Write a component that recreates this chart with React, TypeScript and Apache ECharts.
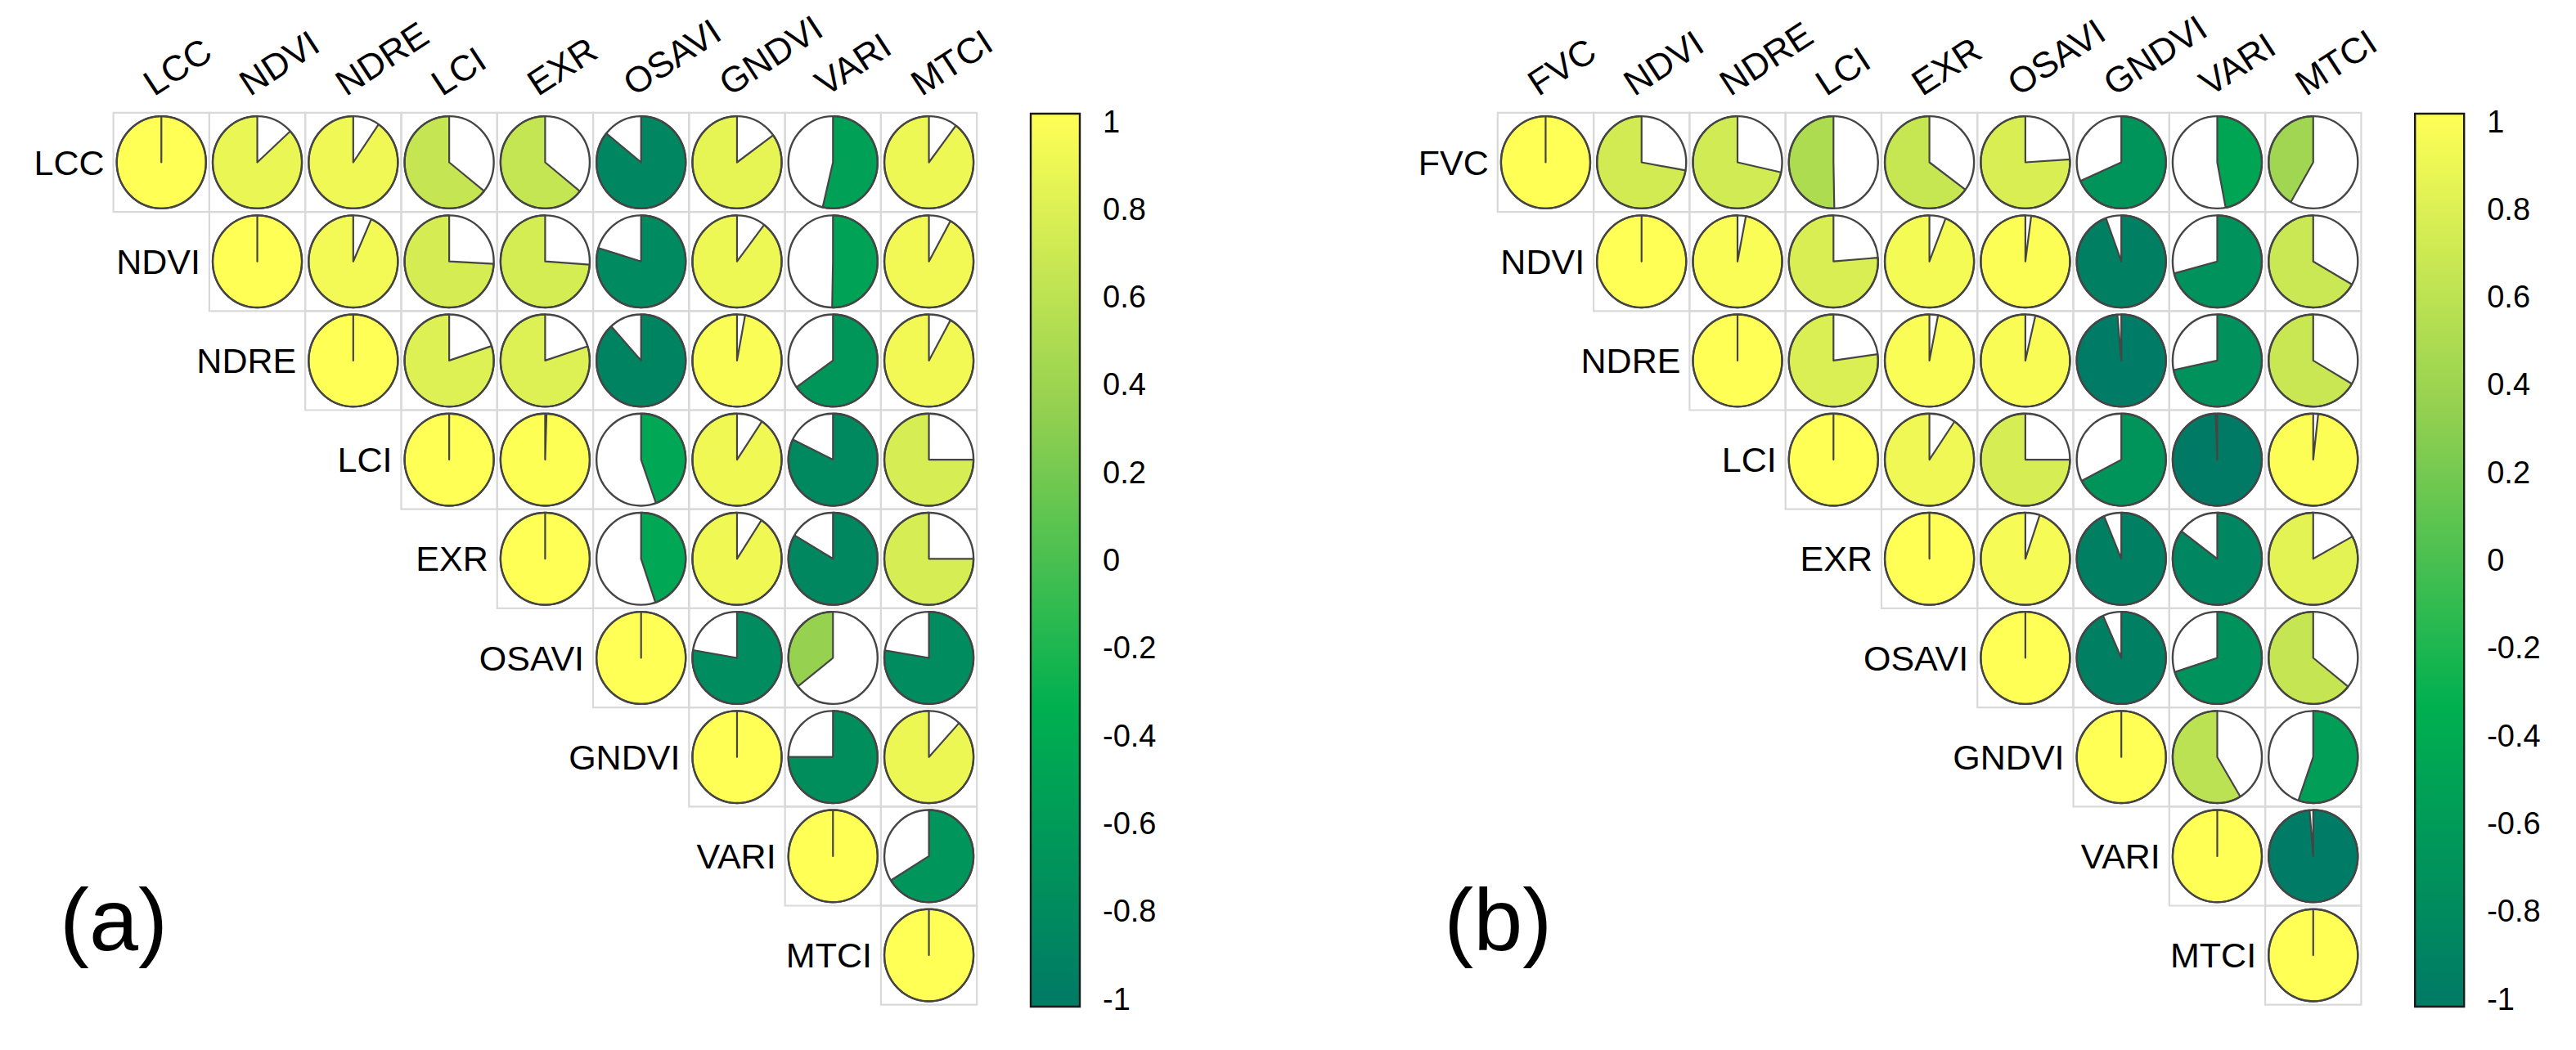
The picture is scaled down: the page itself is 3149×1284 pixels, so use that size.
import React, { useEffect, useRef } from "react";
import * as echarts from "echarts";

// ---------- data ----------
const VARS_A = ["LCC", "NDVI", "NDRE", "LCI", "EXR", "OSAVI", "GNDVI", "VARI", "MTCI"];
const VARS_B = ["FVC", "NDVI", "NDRE", "LCI", "EXR", "OSAVI", "GNDVI", "VARI", "MTCI"];

// upper triangle rows (values from the diagonal to the right)
const ROWS_A: number[][] = [
  [1, 0.868, 0.904, 0.643, 0.642, -0.858, 0.85, -0.537, 0.897],
  [1, 0.934, 0.742, 0.739, -0.797, 0.896, -0.503, 0.92],
  [1, 0.801, 0.8, -0.883, 0.971, -0.652, 0.92],
  [1, 0.995, -0.446, 0.906, -0.822, 0.75],
  [1, -0.448, 0.908, -0.835, 0.75],
  [1, -0.777, 0.356, -0.776],
  [1, -0.75, 0.882],
  [1, -0.662],
  [1],
];

const ROWS_B: number[][] = [
  [1, 0.722, 0.715, 0.503, 0.649, 0.76, -0.684, -0.47, 0.416],
  [1, 0.97, 0.763, 0.941, 0.979, -0.944, -0.708, 0.667],
  [1, 0.772, 0.969, 0.964, -0.986, -0.717, 0.666],
  [1, 0.905, 0.75, -0.674, -0.994, 0.982],
  [1, 0.948, -0.937, -0.852, 0.83],
  [1, -0.933, -0.7, 0.643],
  [1, 0.586, -0.554],
  [1, -0.987],
  [1],
];

const PALETTE = ["#007A65", "#00B050", "#92D050", "#FFFF55"];
const PALETTE_VALUES = [-1, -1 / 3, 1 / 3, 1];
const PANEL_LABELS = ["(a)", "(b)"];

const FONT = "'Liberation Sans', Arial, sans-serif";

function toItems(rows: number[][]) {
  const out: number[][] = [];
  rows.forEach((vals, i) => {
    vals.forEach((v, k) => out.push([i + k, i, v]));
  });
  return out;
}

function makePieRender(vars: string[]) {
  return (params: any, api: any) => {
    const col = api.value(0);
    const row = api.value(1);
    const r = api.value(2);
    const [cx, cy] = api.coord([col, row]);
    const [w, h] = api.size([1, 1]);
    const rx = w * 0.465;
    const ry = h * 0.465;
    const color = api.visual("color");
    const end = -r * 2 * Math.PI;
    const n = Math.max(2, Math.ceil(Math.abs(r) * 240));
    const pts: number[][] = [[cx, cy]];
    for (let i = 0; i <= n; i++) {
      const t = (end * i) / n;
      pts.push([cx + rx * Math.sin(t), cy - ry * Math.cos(t)]);
    }
    const children: any[] = [
      {
        type: "rect",
        shape: { x: cx - w / 2, y: cy - h / 2, width: w, height: h },
        style: { fill: "none", stroke: "#d9d9d9", lineWidth: 2.2 },
      },
      {
        type: "ellipse",
        shape: { cx, cy, rx, ry },
        style: { fill: "#ffffff", stroke: "none" },
      },
      {
        type: "polygon",
        shape: { points: pts },
        style: { fill: color, stroke: "#454545", lineWidth: 2.2, lineJoin: "round" },
      },
      {
        type: "ellipse",
        shape: { cx, cy, rx, ry },
        style: { fill: "none", stroke: "#454545", lineWidth: 2.4 },
      },
    ];
    if (col === row) {
      children.push({
        type: "text",
        x: cx - w / 2 - 11,
        y: cy,
        style: {
          text: vars[row],
          fill: "#000",
          font: `43px ${FONT}`,
          align: "right",
          verticalAlign: "middle",
        },
      });
    }
    if (row === 0) {
      const ang = (33 * Math.PI) / 180;
      const top = cy - h / 2;
      children.push({
        type: "text",
        x: cx - 9 - 15.4 * Math.sin(ang),
        y: top - 19.6 - 15.4 * Math.cos(ang),
        rotation: ang,
        style: {
          text: vars[col],
          fill: "#000",
          font: `44px ${FONT}`,
          align: "left",
          verticalAlign: "middle",
        },
      });
    }
    return { type: "group", children };
  };
}

function colorbarRender(params: any, api: any) {
  const pad = 9.5;
  const top = api.coord([0, 1])[1] - pad;
  const bottom = api.coord([0, -1])[1] + pad;
  const x0 = params.coordSys.x;
  const width = params.coordSys.width;
  const stops = PALETTE_VALUES.map((v, i) => ({
    offset: (api.coord([0, v])[1] - top) / (bottom - top),
    color: PALETTE[i],
  })).sort((a, b) => a.offset - b.offset);
  stops[0].offset = 0;
  stops[stops.length - 1].offset = 1;
  return {
    type: "rect",
    shape: { x: x0, y: top, width, height: bottom - top },
    style: {
      fill: new echarts.graphic.LinearGradient(0, 0, 0, 1, stops),
      stroke: "#1a1a1a",
      lineWidth: 2.4,
    },
  };
}

export default function App() {
  const ref = useRef<HTMLDivElement>(null);

  useEffect(() => {
    if (!ref.current) return;
    const chart = echarts.init(ref.current, undefined, { renderer: "svg" });

    const gridTop = 137.9;
    const gridW = 1055.6;
    const gridH = 1090.8;
    const panelShift = 1692.2;
    const gridLeftA = 138.6;
    const cbLeftA = 1260;

    const cbYAxis = (idx: number) => ({
      type: "value",
      gridIndex: idx,
      min: -1,
      max: 1,
      interval: 0.2,
      position: "right",
      axisLine: { show: false },
      axisTick: { show: true, length: 13, lineStyle: { color: "#1a1a1a", width: 2.2 } },
      axisLabel: { margin: 28, fontSize: 38, color: "#000", fontFamily: FONT },
      splitLine: { show: false },
    });

    chart.setOption({
      animation: false,
      backgroundColor: "#ffffff",
      grid: [
        { left: gridLeftA, top: gridTop, width: gridW, height: gridH },
        { left: gridLeftA + panelShift, top: gridTop, width: gridW, height: gridH },
        { left: cbLeftA, top: 148.5, width: 60, height: 1073 },
        { left: cbLeftA + panelShift, top: 148.5, width: 60, height: 1073 },
      ],
      xAxis: [
        { type: "category", gridIndex: 0, data: VARS_A, show: false },
        { type: "category", gridIndex: 1, data: VARS_B, show: false },
        { type: "value", gridIndex: 2, min: 0, max: 1, show: false },
        { type: "value", gridIndex: 3, min: 0, max: 1, show: false },
      ],
      yAxis: [
        { type: "category", gridIndex: 0, data: VARS_A, inverse: true, show: false },
        { type: "category", gridIndex: 1, data: VARS_B, inverse: true, show: false },
        cbYAxis(2),
        cbYAxis(3),
      ],
      visualMap: {
        type: "continuous",
        show: false,
        min: -1,
        max: 1,
        dimension: 2,
        seriesIndex: [0, 1],
        inRange: { color: PALETTE },
      },
      series: [
        {
          type: "custom",
          xAxisIndex: 0,
          yAxisIndex: 0,
          data: toItems(ROWS_A),
          renderItem: makePieRender(VARS_A),
          silent: true,
          clip: false,
        },
        {
          type: "custom",
          xAxisIndex: 1,
          yAxisIndex: 1,
          data: toItems(ROWS_B),
          renderItem: makePieRender(VARS_B),
          silent: true,
          clip: false,
        },
        {
          type: "custom",
          xAxisIndex: 2,
          yAxisIndex: 2,
          data: [[0.5, 0]],
          renderItem: colorbarRender,
          silent: true,
          clip: false,
        },
        {
          type: "custom",
          xAxisIndex: 3,
          yAxisIndex: 3,
          data: [[0.5, 0]],
          renderItem: colorbarRender,
          silent: true,
          clip: false,
        },
      ],
      graphic: PANEL_LABELS.map((t, i) => ({
        type: "text",
        x: 73 + i * panelShift,
        y: 1124,
        style: {
          text: t,
          fill: "#000",
          font: `108px ${FONT}`,
          align: "left",
          verticalAlign: "middle",
        },
      })),
    });

    return () => chart.dispose();
  }, []);

  return (
    <div
      ref={ref}
      style={{ position: "absolute", left: 0, top: 0, width: 3149, height: 1284 }}
    />
  );
}
